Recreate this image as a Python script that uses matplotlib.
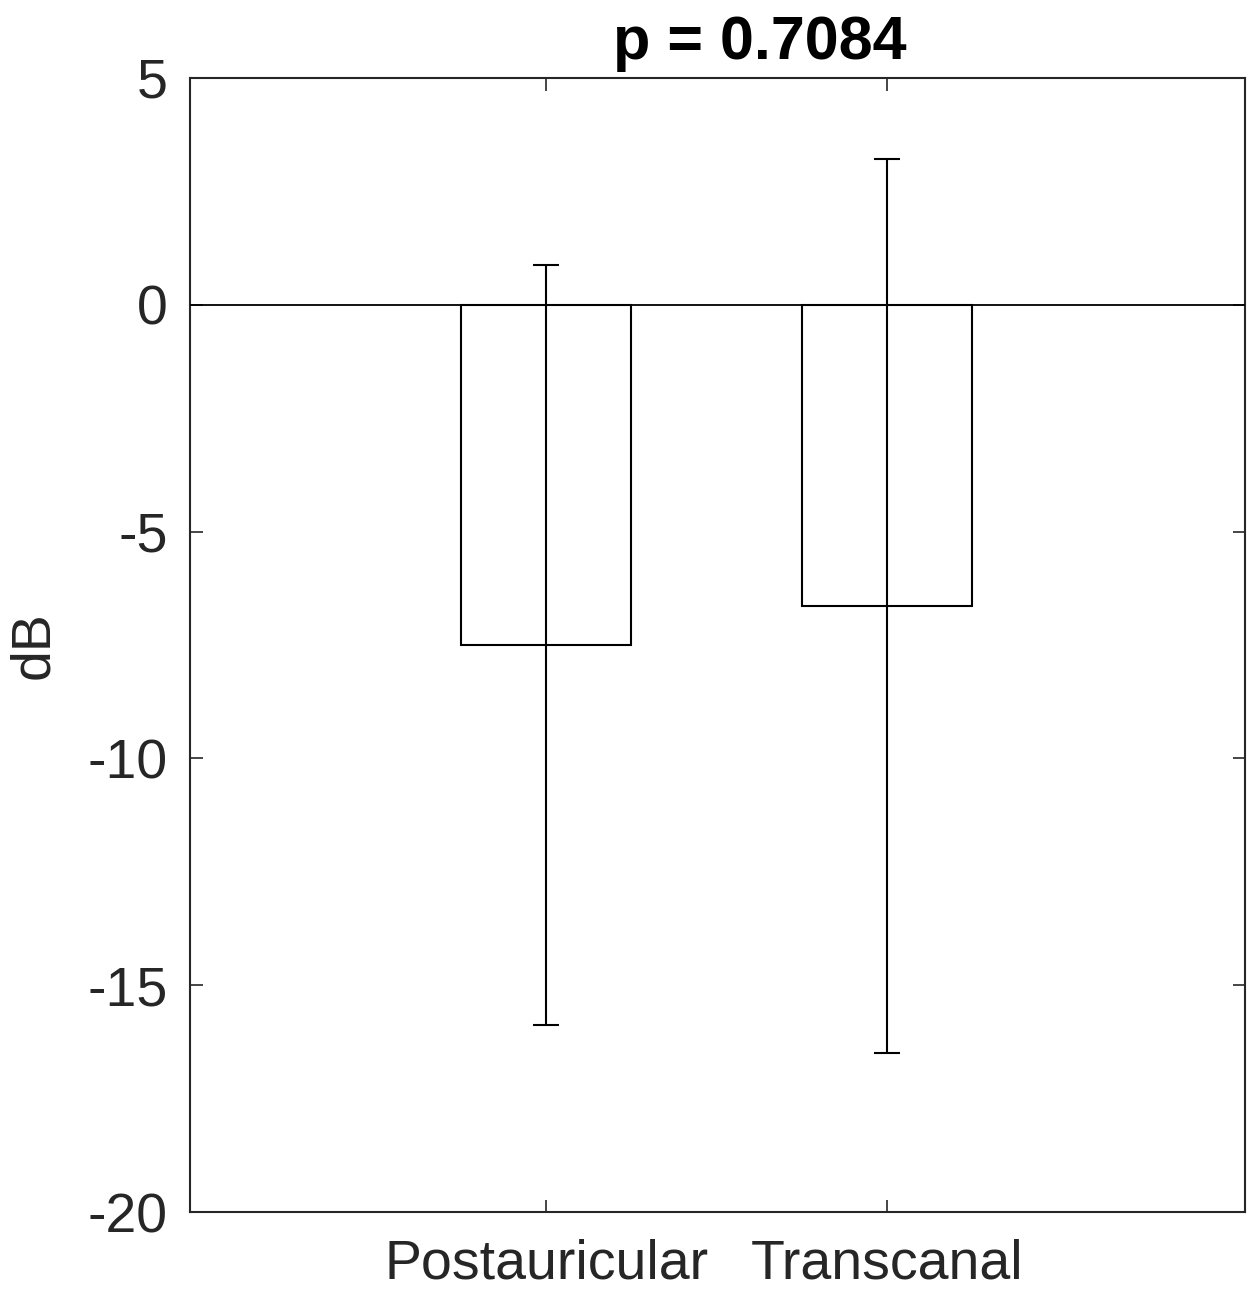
import matplotlib.pyplot as plt

plt.rcParams['font.family'] = ['Liberation Sans', 'DejaVu Sans']
plt.rcParams['axes.unicode_minus'] = False

# data
groups = ["Postauricular", "Transcanal"]
means = [-7.50, -6.64]
errors = [8.38, 9.85]
p_text = "p = 0.7084"

ink = "#262626"

fig = plt.figure(figsize=(12.5, 12.89), dpi=100)
ax = fig.add_axes([0.152, 0.0597, 0.844, 0.8798])

xpos = [1, 2]
ax.bar(xpos, means, width=0.5, color="white", edgecolor="black", linewidth=1.5, zorder=2)
ax.errorbar(xpos, means, yerr=errors, fmt="none", ecolor="black",
            elinewidth=1.5, capsize=9.4, capthick=1.5, zorder=3)
ax.axhline(0, color="black", linewidth=1.3, zorder=4)

ax.set_xlim(-0.045, 3.05)
ax.set_ylim(-20, 5)
ax.set_yticks([-20, -15, -10, -5, 0, 5])
ax.set_xticks(xpos)
ax.set_xticklabels(groups)

ax.tick_params(axis="both", direction="in", length=9, width=1.2, colors=ink,
               labelsize=40, top=True, right=True)
ax.tick_params(axis="y", pad=16)
ax.tick_params(axis="x", pad=19)
for s in ax.spines.values():
    s.set_linewidth(1.5)
    s.set_color(ink)

ax.set_ylabel("dB", fontsize=40, color=ink)
ax.yaxis.set_label_coords(-0.123, 0.5)
ax.set_title(p_text, fontsize=44, fontweight="bold", color="black", pad=14, x=0.54)

fig.savefig("out.png", dpi=100)
